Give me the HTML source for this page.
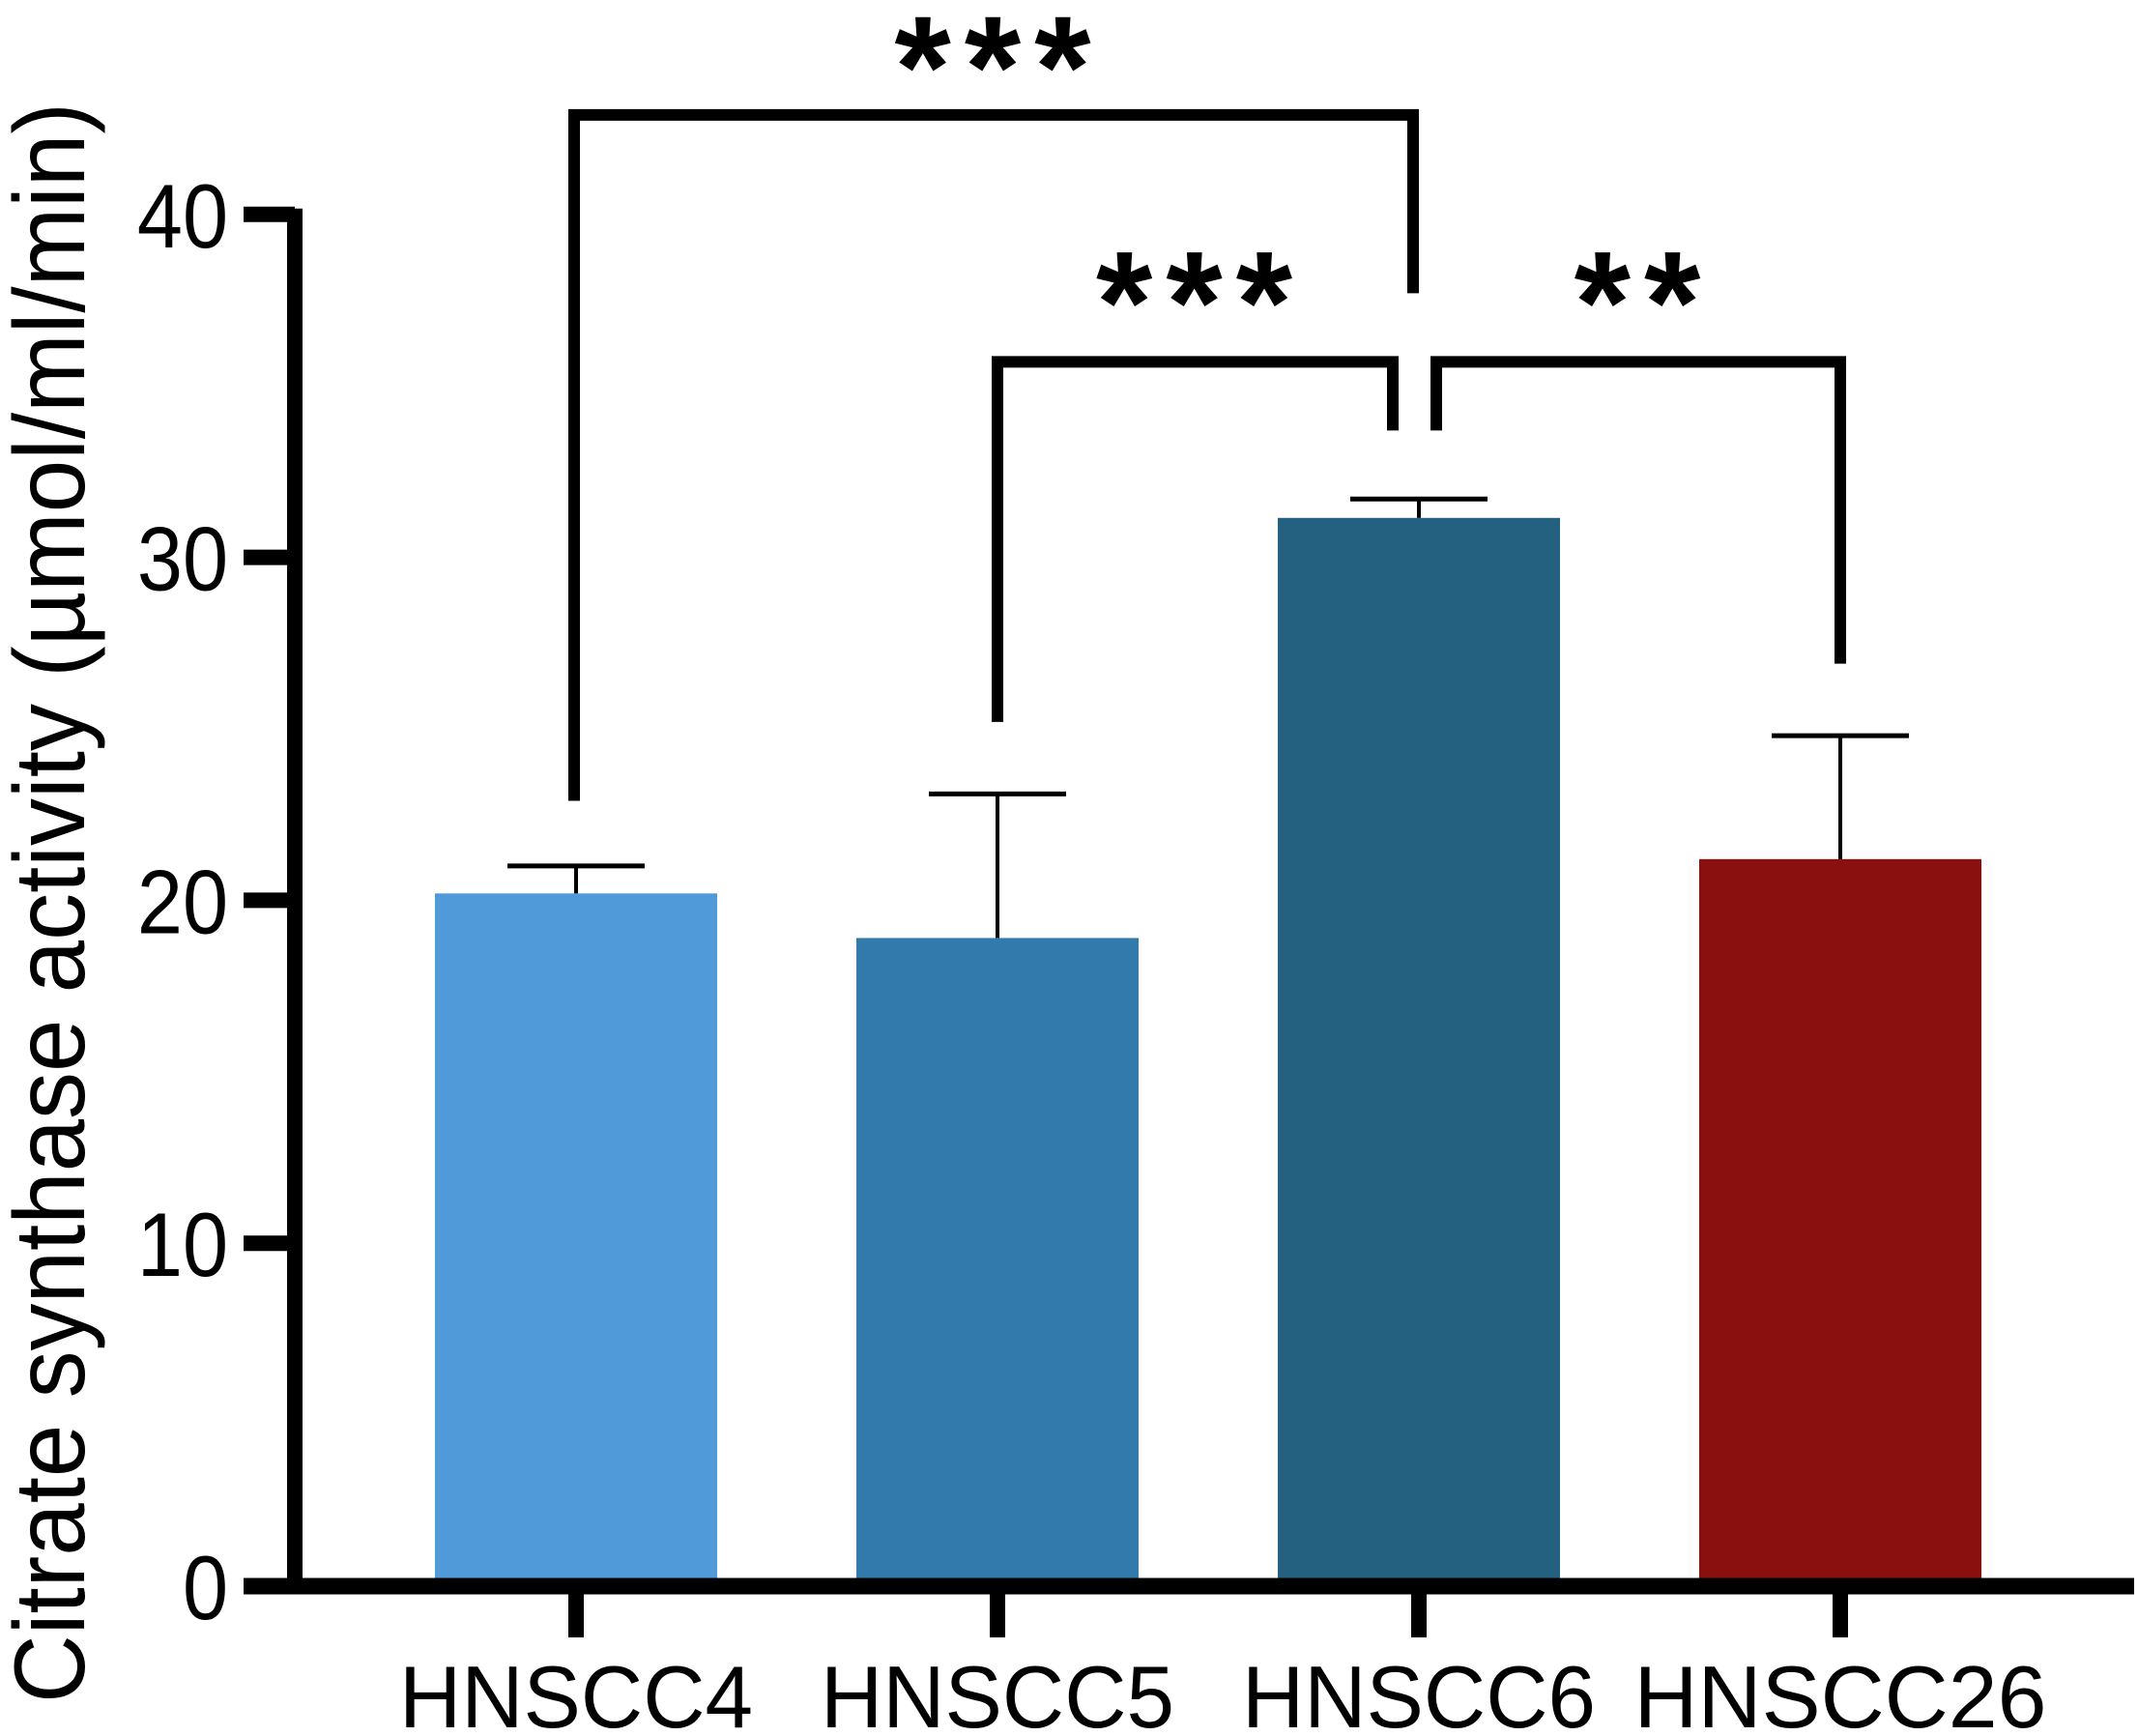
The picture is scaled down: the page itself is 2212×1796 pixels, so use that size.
<!DOCTYPE html>
<html><head><meta charset="utf-8"><style>
html,body{margin:0;padding:0;background:#fff;}
svg{display:block;}
text{font-family:"Liberation Sans",Arial,sans-serif;fill:#000;}
</style></head><body>
<svg id="chart" width="2212" height="1796" viewBox="0 0 2212 1796" xmlns="http://www.w3.org/2000/svg"></svg>
<script>
const categories = ["HNSCC4", "HNSCC5", "HNSCC6", "HNSCC26"];
const means = [20.2, 18.9, 31.15, 21.2];
const errTops = [21.0, 23.1, 31.7, 24.8];
const colors = ["#519ad9", "#337aac", "#246180", "#8a100f"];
const yTicks = [0, 10, 20, 30, 40];
const yTickLabels = ["0", "10", "20", "30", "40"];
const bracketFrom = [0, 1, 2];
const bracketTo = [2, 2, 3];
const bracketTop = [42.9, 35.7, 35.7];
const bracketLeftEnd = [22.9, 25.2, 33.7];
const bracketRightEnd = [37.7, 33.7, 26.9];
const bracketLabels = ["***", "***", "**"];

const NS = "http://www.w3.org/2000/svg";
const svg = document.getElementById("chart");
const Y0 = 1641, PX_PER_UNIT = 35.48;
function yScale(v){ return Y0 - v * PX_PER_UNIT; }
const X0 = 596, XSTEP = 436;
function xScale(i){ return X0 + i * XSTEP; }
function mk(tag, attrs){ const e = document.createElementNS(NS, tag); for (const k in attrs) e.setAttribute(k, attrs[k]); svg.appendChild(e); return e; }

categories.forEach((c, i) => {
  const cx = xScale(i), bw = 292;
  const r = mk("rect", {x: cx - bw/2, y: yScale(means[i]), width: bw, height: Y0 - yScale(means[i]), fill: colors[i]});
  
  
  const s = mk("line", {x1: cx, x2: cx, y1: yScale(means[i]), y2: yScale(errTops[i]), stroke: "#000", "stroke-width": 4});
  
  
  const cap = mk("line", {x1: cx - 71, x2: cx + 71, y1: yScale(errTops[i]), y2: yScale(errTops[i]), stroke: "#000", "stroke-width": 5});
  
  
});

const ya = mk("line", {x1: 305, x2: 305, y1: yScale(40) - 6, y2: Y0 + 8, stroke: "#000", "stroke-width": 16});


const xa = mk("line", {x1: 252, x2: 2208, y1: Y0, y2: Y0, stroke: "#000", "stroke-width": 17});



yTicks.forEach((t, i) => {
  const y = yScale(t);
  const tk = mk("line", {x1: 252, x2: 305, y1: y, y2: y, stroke: "#000", "stroke-width": 16});
  
  
  const lb = mk("text", {x: 0, y: 0, "font-size": 94, "text-anchor": "end", transform: `translate(236,${y + 34}) scale(0.9,1)`});
  lb.textContent = yTickLabels[i];
  
  
});

categories.forEach((c, i) => {
  const cx = xScale(i);
  const tk = mk("line", {x1: cx, x2: cx, y1: Y0, y2: 1694, stroke: "#000", "stroke-width": 16});
  
  
  const lb = mk("text", {x: cx, y: 1787, "font-size": 91, "text-anchor": "middle", textLength: c.length * 61, lengthAdjust: "spacingAndGlyphs"});
  lb.textContent = c;
  
  
});

const yt = mk("text", {x: 0, y: 0, "font-size": 104, "text-anchor": "middle", textLength: 1656, lengthAdjust: "spacingAndGlyphs", transform: "translate(87,934) rotate(-90)"});
yt.textContent = "Citrate synthase activity (µmol/ml/min)";



bracketFrom.forEach((f, k) => {
  let xl, xr;
  if (k === 0) { xl = xScale(0) - 2; xr = xScale(2) - 6; }
  if (k === 1) { xl = xScale(1); xr = xScale(2) - 27; }
  if (k === 2) { xl = xScale(2) + 18; xr = xScale(3); }
  const yt2 = yScale(bracketTop[k]);
  const p = mk("path", {d: `M${xl},${yScale(bracketLeftEnd[k])} L${xl},${yt2} L${xr},${yt2} L${xr},${yScale(bracketRightEnd[k])}`, fill: "none", stroke: "#000", "stroke-width": 12, "stroke-linejoin": "miter"});
  
  
  const lx = (xl + xr) / 2 + 6;
  const lb = mk("text", {x: lx, y: yt2 - (k === 0 ? -2 : 10), "font-size": 150, "font-weight": "bold", "text-anchor": "middle", "letter-spacing": 14});
  lb.textContent = bracketLabels[k];
  
  
});
</script>
</body></html>
